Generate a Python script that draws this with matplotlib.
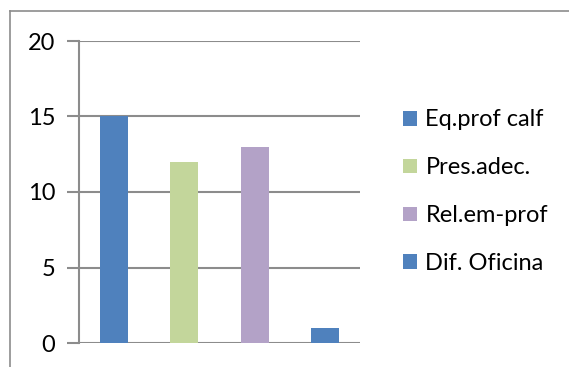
import numpy as np
import matplotlib.pyplot as plt
from matplotlib.patches import Patch
from matplotlib.lines import Line2D

series = ['Eq.prof calf', 'Pres.adec.', 'Rel.em-prof', 'Dif. Oficina']
values = [15, 12, 13, 1]
colors = ['#4F81BD', '#C3D69B', '#B3A2C7', '#4F81BD']
yticks = [0, 5, 10, 15, 20]

plt.rcParams['font.family'] = ['Lato', 'DejaVu Sans']

fig = plt.figure(figsize=(5.69, 3.67), dpi=100)
W, H = 569, 367
ax = fig.add_axes([79 / W, 1 - 343 / H, (360 - 79) / W, (343 - 41) / H])

x = np.arange(len(values))
ax.bar(x, values, width=0.4, color=colors, zorder=3)
ax.set_xlim(-0.5, len(values) - 0.5)
ax.set_ylim(0, 20)
ax.set_yticks(yticks)
ax.yaxis.grid(True, color='#8c8c8c', linewidth=1.5, zorder=0)
ax.set_xticks([])
for s in ['top', 'right', 'bottom']:
    ax.spines[s].set_visible(False)
ax.spines['left'].set_color('#8c8c8c')
ax.spines['left'].set_linewidth(1.5)
ax.tick_params(axis='y', length=9, width=1.5, color='#8c8c8c', labelsize=17, pad=8)

# outer chart frame (only top and left visible in the crop)
fig.add_artist(Line2D([10 / W, 10 / W], [0, 1 - 11 / H], color='#8c8c8c', linewidth=1.2))
fig.add_artist(Line2D([10 / W, 1], [1 - 11 / H, 1 - 11 / H], color='#8c8c8c', linewidth=1.2))

handles = [Patch(facecolor=c, edgecolor='none') for c in colors]
fig.legend(handles, series, loc='upper left', bbox_to_anchor=(394 / W, 1 - 100 / H),
           frameon=False, fontsize=17, labelspacing=1.14, handlelength=0.59,
           handleheight=0.59, handletextpad=0.34, borderaxespad=0)

fig.savefig('out.png', dpi=100)
